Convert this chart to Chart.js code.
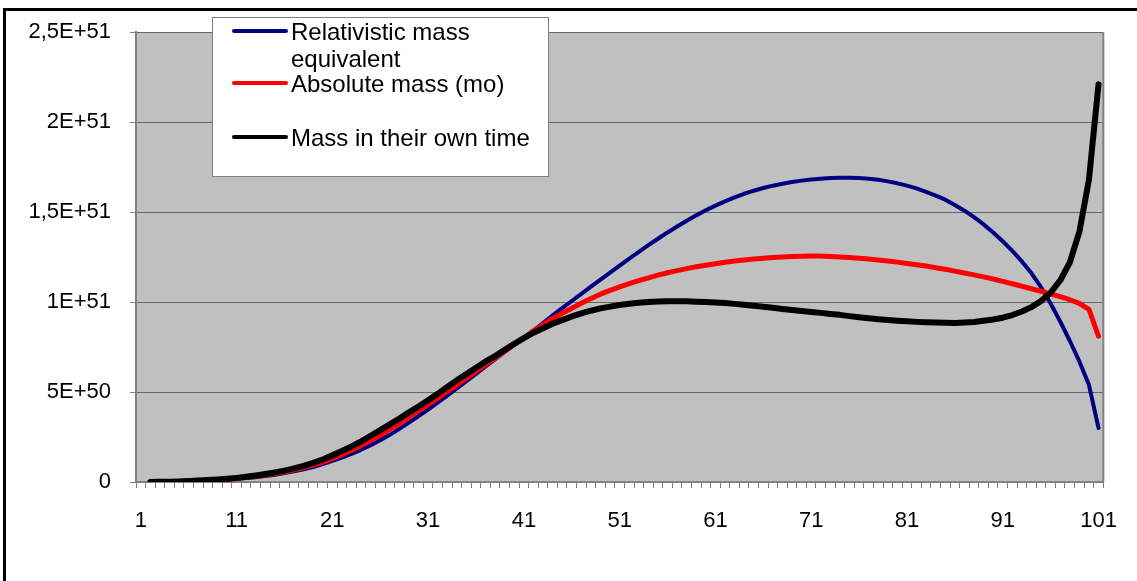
<!DOCTYPE html>
<html>
<head>
<meta charset="utf-8">
<script src="https://cdn.jsdelivr.net/npm/chart.js@4/dist/chart.umd.min.js"></script>
<style>
  html, body { margin: 0; padding: 0; background: #fff; overflow: hidden; }
  canvas { display: block; }
</style>
</head>
<body>
<canvas id="chart" width="1137" height="581"></canvas>
<script>
/*===== DATA =====*/

// x categories 1..101
const categories = [
  1, 2, 3, 4, 5, 6, 7, 8, 9, 10, 11, 12, 13, 14, 15, 16, 17, 18, 19, 20,
  21, 22, 23, 24, 25, 26, 27, 28, 29, 30, 31, 32, 33, 34, 35, 36, 37, 38, 39, 40,
  41, 42, 43, 44, 45, 46, 47, 48, 49, 50, 51, 52, 53, 54, 55, 56, 57, 58, 59, 60,
  61, 62, 63, 64, 65, 66, 67, 68, 69, 70, 71, 72, 73, 74, 75, 76, 77, 78, 79, 80,
  81, 82, 83, 84, 85, 86, 87, 88, 89, 90, 91, 92, 93, 94, 95, 96, 97, 98, 99, 100, 101
];

// values in units of 1E+51, first category has no value
const relativistic = [
  null, 0, 0.0005, 0.001, 0.002, 0.003, 0.005, 0.007, 0.01, 0.013,
  0.017, 0.022, 0.027, 0.033, 0.04, 0.05, 0.059, 0.07, 0.083, 0.1,
  0.118, 0.136, 0.156, 0.179, 0.204, 0.232, 0.262, 0.295, 0.33, 0.366,
  0.403, 0.441, 0.48, 0.52, 0.56, 0.601, 0.642, 0.683, 0.723, 0.762,
  0.80, 0.842, 0.884, 0.926, 0.966, 1.006, 1.046, 1.086, 1.125, 1.164,
  1.203, 1.241, 1.279, 1.316, 1.352, 1.387, 1.42, 1.452, 1.482, 1.51,
  1.536, 1.56, 1.582, 1.602, 1.619, 1.634, 1.647, 1.658, 1.667, 1.675,
  1.681, 1.686, 1.689, 1.691, 1.691, 1.689, 1.686, 1.68, 1.671, 1.66,
  1.647, 1.632, 1.613, 1.592, 1.569, 1.54, 1.508, 1.472, 1.432, 1.387,
  1.338, 1.285, 1.226, 1.16, 1.083, 0.992, 0.892, 0.785, 0.67, 0.54, 0.30
];

const absolute = [
  null, 0, 0.0007, 0.0015, 0.0025, 0.004, 0.006, 0.009, 0.012, 0.016,
  0.02, 0.026, 0.032, 0.039, 0.047, 0.056, 0.067, 0.08, 0.094, 0.11,
  0.13, 0.152, 0.176, 0.202, 0.23, 0.26, 0.292, 0.325, 0.36, 0.395,
  0.43, 0.466, 0.503, 0.54, 0.577, 0.615, 0.652, 0.69, 0.727, 0.764,
  0.80, 0.84, 0.875, 0.908, 0.938, 0.966, 0.993, 1.02, 1.044, 1.065,
  1.084, 1.102, 1.119, 1.135, 1.15, 1.163, 1.175, 1.186, 1.196, 1.205,
  1.213, 1.221, 1.228, 1.234, 1.239, 1.244, 1.248, 1.251, 1.254, 1.255,
  1.256, 1.256, 1.254, 1.251, 1.248, 1.244, 1.239, 1.234, 1.228, 1.222,
  1.215, 1.208, 1.2, 1.191, 1.182, 1.172, 1.162, 1.151, 1.14, 1.128,
  1.115, 1.102, 1.088, 1.074, 1.06, 1.045, 1.03, 1.013, 0.993, 0.96, 0.81
];

const ownTime = [
  null, 0.0005, 0.001, 0.002, 0.003, 0.005, 0.008, 0.011, 0.014, 0.018,
  0.023, 0.029, 0.036, 0.044, 0.053, 0.063, 0.076, 0.09, 0.106, 0.125,
  0.148, 0.172, 0.198, 0.226, 0.257, 0.288, 0.32, 0.353, 0.387, 0.42,
  0.455, 0.49, 0.528, 0.565, 0.60, 0.635, 0.67, 0.70, 0.735, 0.768,
  0.80, 0.83, 0.855, 0.88, 0.90, 0.92, 0.937, 0.952, 0.965, 0.975,
  0.984, 0.991, 0.996, 1.0, 1.003, 1.005, 1.005, 1.004, 1.002, 1.0,
  0.998, 0.995, 0.99, 0.985, 0.98, 0.974, 0.968, 0.962, 0.956, 0.95,
  0.945, 0.94, 0.934, 0.929, 0.922, 0.916, 0.91, 0.905, 0.9, 0.896,
  0.893, 0.89, 0.888, 0.886, 0.885, 0.884, 0.886, 0.889, 0.896, 0.903,
  0.913, 0.928, 0.948, 0.972, 1.006, 1.053, 1.12, 1.22, 1.39, 1.68, 2.21
];

const seriesLabels = ["Relativistic mass equivalent", "Absolute mass (mo)", "Mass in their own time"];
const yTickLabels = ["0", "5E+50", "1E+51", "1,5E+51", "2E+51", "2,5E+51"];

/*===== CHART =====*/

const FONT = "'Liberation Sans', Arial, sans-serif";

const frame = {
    id: "frame",
    beforeDraw(chart) {
        const ctx = chart.ctx, a = chart.chartArea;
        ctx.save();
        ctx.fillStyle = "#fff";
        ctx.fillRect(0, 0, chart.width, chart.height);
        ctx.strokeStyle = "#000";
        ctx.lineWidth = 3;
        ctx.strokeRect(4.5, 9.5, chart.width + 20, chart.height + 20);
        ctx.fillStyle = "#c0c0c0";
        ctx.fillRect(a.left, a.top, a.right - a.left, a.bottom - a.top);
        ctx.restore();
    },
    beforeDatasetsDraw(chart) {
        const ctx = chart.ctx, a = chart.chartArea;
        ctx.save();
        ctx.strokeStyle = "#808080";
        ctx.lineWidth = 2;
        ctx.beginPath();
        ctx.moveTo(a.right, a.top);
        ctx.lineTo(a.right, a.bottom);
        ctx.stroke();
        ctx.restore();
    },
    afterDraw(chart) {
        const ctx = chart.ctx;
        ctx.save();
        ctx.fillStyle = "#fff";
        ctx.fillRect(212, 17, 337, 160);
        ctx.strokeStyle = "#808080";
        ctx.lineWidth = 1;
        ctx.strokeRect(212.5, 17.5, 336, 159);
        ctx.font = "24px " + FONT;
        ctx.textBaseline = "alphabetic";
        const baselines = [40, 92, 146];
        chart.data.datasets.forEach((ds, i) => {
            const base = baselines[i];
            ctx.strokeStyle = ds.borderColor;
            ctx.lineWidth = 4;
            ctx.lineCap = "round";
            ctx.beginPath();
            ctx.moveTo(234, base - 9);
            ctx.lineTo(286, base - 9);
            ctx.stroke();
            // wrap the label to the box
            let words = ds.label.split(" "), line = "", lines = [];
            words.forEach(w => {
                let test = line ? line + " " + w : w;
                if (ctx.measureText(test).width > 250 && line) {
                    lines.push(line);
                    line = w;
                } else {
                    line = test;
                }
            });
            lines.push(line);
            ctx.fillStyle = "#000";
            lines.forEach((l, k) => ctx.fillText(l, 291, base + k * 27));
        });
        ctx.restore();
    }
};

new Chart("chart", {
    type: "line",
    data: {
        labels: categories,
        datasets: [
            { label: seriesLabels[0], data: relativistic, borderColor: "#000080", borderWidth: 4, order: 3 },
            { label: seriesLabels[1], data: absolute, borderColor: "#ff0000", borderWidth: 5, order: 2 },
            { label: seriesLabels[2], data: ownTime, borderColor: "#000000", borderWidth: 6, order: 1 }
        ]
    },
    options: {
        responsive: false,
        animation: false,
        devicePixelRatio: 1,
        layout: { padding: { left: 0, right: 28, top: 22, bottom: 0 } },
        elements: {
            point: { radius: 0 },
            line: { tension: 0, borderJoinStyle: "round", borderCapStyle: "round" }
        },
        plugins: {
            legend: { display: false },
            tooltip: { enabled: false }
        },
        scales: {
            x: {
                type: "category",
                offset: true,
                afterFit: s => { s.height = 99; },
                grid: { offset: true, drawOnChartArea: false, drawTicks: true, tickLength: 6, color: "#808080" },
                border: { color: "#808080", width: 2 },
                ticks: {
                    autoSkip: false,
                    maxRotation: 0,
                    padding: 20,
                    color: "#000",
                    font: { family: FONT, size: 22 },
                    callback: (v, i) => i % 10 === 0 ? categories[i] : ""
                }
            },
            y: {
                min: 0,
                max: 2.5,
                afterFit: s => { s.width = 136; },
                grid: { color: "#666", tickColor: "#808080", drawTicks: true, tickLength: 6 },
                border: { color: "#808080", width: 2 },
                ticks: {
                    stepSize: 0.5,
                    padding: 19,
                    color: "#000",
                    font: { family: FONT, size: 22 },
                    callback: (v, i) => yTickLabels[i]
                }
            }
        }
    },
    plugins: [frame]
});
</script>
</body>
</html>
